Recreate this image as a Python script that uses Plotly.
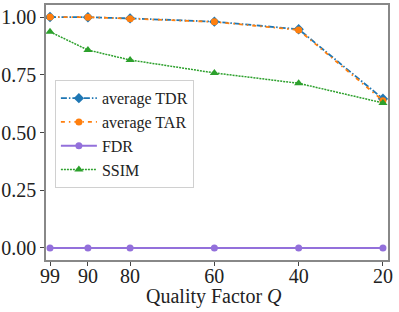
import plotly.graph_objects as go

quality = [99, 90, 80, 60, 40, 20]
tick_labels = ["99", "90", "80", "60", "40", "20"]
tdr = [1.0, 0.999, 0.994, 0.980, 0.947, 0.646]
tar = [1.0, 0.999, 0.993, 0.979, 0.944, 0.638]
fdr = [0.0, 0.0, 0.0, 0.0, 0.0, 0.0]
ssim = [0.936, 0.857, 0.814, 0.758, 0.713, 0.628]

FONT = "Liberation Serif"

fig = go.Figure()
fig.add_trace(go.Scatter(x=quality, y=tdr, name="average TDR", mode="lines+markers",
                         line=dict(color="#1f77b4", width=1.8, dash="6px,2px,1.5px,2px"),
                         marker=dict(symbol="diamond", size=8, color="#1f77b4")))
fig.add_trace(go.Scatter(x=quality, y=tar, name="average TAR", mode="lines+markers",
                         line=dict(color="#ff7f0e", width=1.8, dash="4px,4px,1.5px,4px"),
                         marker=dict(symbol="circle", size=7, color="#ff7f0e")))
fig.add_trace(go.Scatter(x=quality, y=fdr, name="FDR", mode="lines+markers",
                         line=dict(color="#9370db", width=1.8),
                         marker=dict(symbol="circle", size=7, color="#9370db")))
fig.add_trace(go.Scatter(x=quality, y=ssim, name="SSIM", mode="lines+markers",
                         line=dict(color="#2ca02c", width=1.5, dash="2px,1px"),
                         marker=dict(symbol="triangle-up", size=8, color="#2ca02c")))

fig.update_layout(
    width=399, height=312,
    margin=dict(l=46, r=11, t=5, b=52, autoexpand=False),
    paper_bgcolor="white", plot_bgcolor="white",
    font=dict(family=FONT, color="#222", size=20),
    showlegend=True,
    legend=dict(x=0.026, y=0.705, xanchor="left", yanchor="top",
                bordercolor="#d0d0d0", borderwidth=1, bgcolor="rgba(255,255,255,0.8)",
                font=dict(family=FONT, size=16, color="#222"),
                tracegroupgap=0, itemwidth=36),
    annotations=[dict(text="Quality Factor <i>Q</i>", xref="paper", yref="paper",
                      x=0.49, y=-0.145, xanchor="center", yanchor="middle", showarrow=False,
                      font=dict(family=FONT, size=20, color="#222"))],
)
fig.update_xaxes(range=[99.95, 18.8], tickmode="array", tickvals=quality, ticktext=tick_labels,
                 showgrid=False, zeroline=False, showline=True, linecolor="#888", linewidth=1.5,
                 mirror=True, ticks="outside", ticklen=4, tickcolor="#444", automargin=False,
                 ticklabelstandoff=-7,
                 tickfont=dict(family=FONT, size=20))
fig.update_yaxes(range=[-0.052, 1.052], tickmode="array", tickvals=[0, 0.25, 0.5, 0.75, 1.0],
                 ticktext=["0.00", "0.25", "0.50", "0.75", "1.00"],
                 showgrid=False, zeroline=False, showline=True, linecolor="#888", linewidth=1.5,
                 mirror=True, ticks="outside", ticklen=4, tickcolor="#444", automargin=False,
                 tickfont=dict(family=FONT, size=20))

fig.write_html("out.html", config={"displayModeBar": False},
               post_script="document.body.style.margin='0';document.body.style.overflow='hidden';")
